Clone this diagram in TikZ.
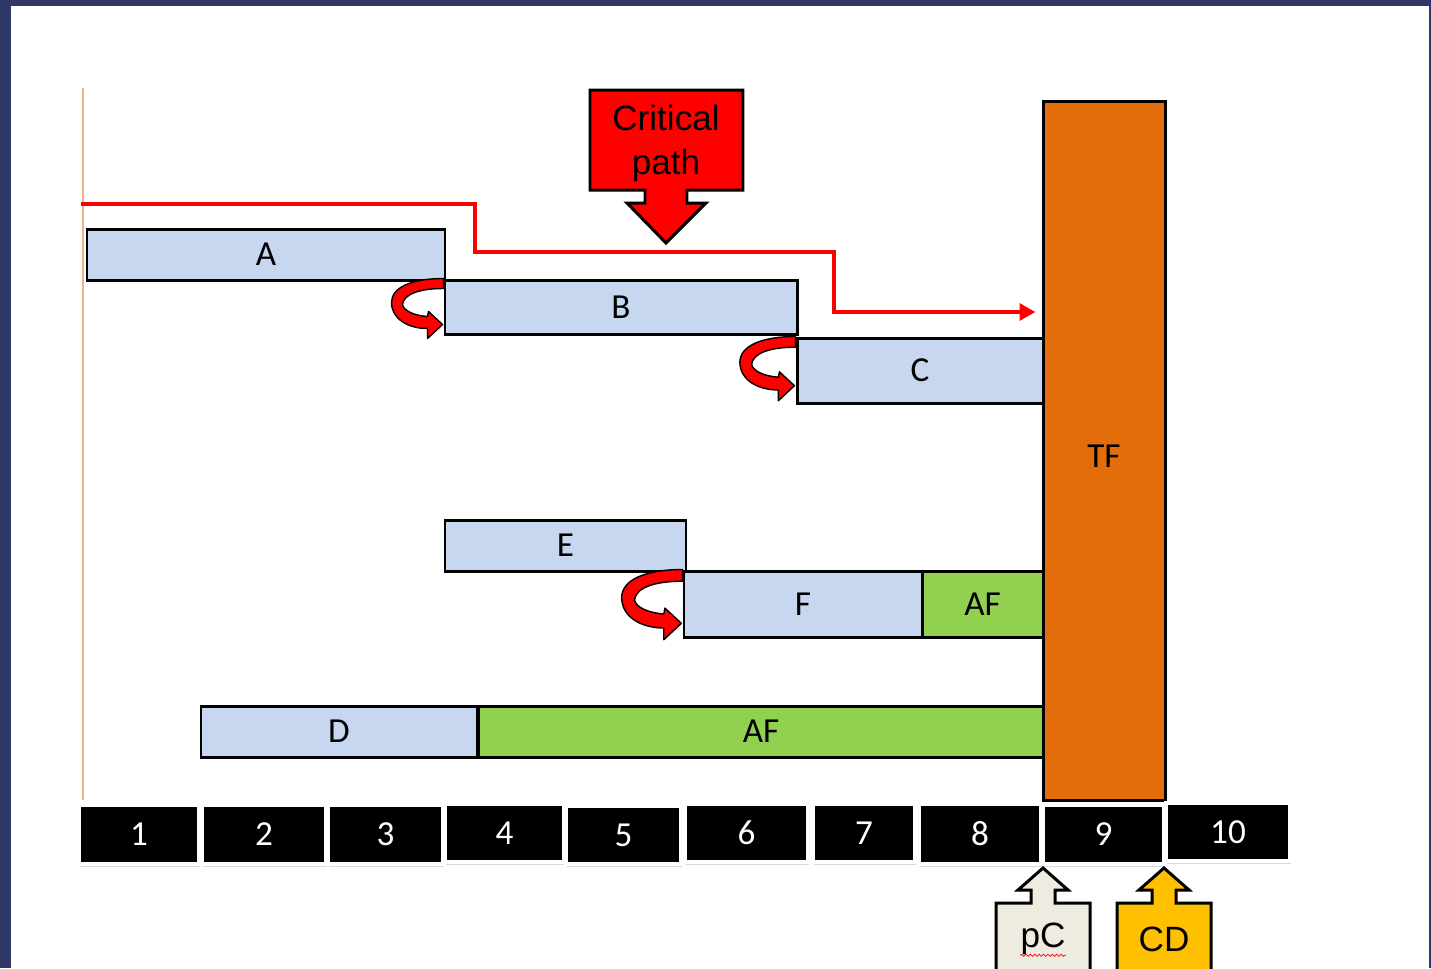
\documentclass[tikz,border=0pt]{standalone}
\usepackage{fontspec}
\setmainfont{Carlito}
\newfontfamily\calloutfont{Liberation Sans}
\usetikzlibrary{fit, shadows, arrows.meta, decorations.pathmorphing}

\definecolor{framenavy}{HTML}{2E3766}
\definecolor{barblue}{HTML}{C6D7EF}
\definecolor{slackgreen}{HTML}{92D050}
\definecolor{tforange}{HTML}{E36C0B}
\definecolor{edgeorange}{HTML}{F4B183}
\definecolor{pcgrey}{HTML}{EEECE1}
\definecolor{cdgold}{HTML}{FFC000}

\tikzset{
  barlabel/.style={font=\fontsize{20}{24}\selectfont, inner sep=0pt},
  ticklabel/.style={barlabel, text=white},
  bar/.style={draw=black, line width=1.7pt, fill=barblue, inner sep=0pt},
  slack/.style={bar, fill=slackgreen},
  totalfloat/.style={bar, fill=tforange},
  tick/.style={draw=white, line width=2.3pt, fill=black, inner sep=0pt,
    drop shadow={shadow xshift=0.6pt, shadow yshift=-1.6pt, opacity=0.3}},
  critpath/.style={draw=red, line width=2.3pt, -{Triangle[length=9pt, width=9.5pt]}},
  uturnarrow/.style={fill=red, draw=black, line width=0.8pt, line join=round},
  flagbox/.style={draw=black, line width=1.7pt},
  flagtext/.style={font=\calloutfont\fontsize{20}{25}\selectfont, align=center, inner sep=0pt},
  leftedge/.style={draw=edgeorange, line width=1.1pt}
}

% red turning arrow, hooked on the corner of the next bar
\newcommand{\uturn}[2]{%
  \begin{scope}[shift={(#1)}, scale=#2]
    \draw[uturnarrow] (0,0) .. controls (-32,0) and (-52,9) .. (-52,24)
      .. controls (-52,40) and (-36,50) .. (-16,50) -- (-16,60) -- (-1,46)
      -- (-15,33) -- (-16,38) .. controls (-30,37) and (-40,32) .. (-41,26)
      .. controls (-40,16) and (-25,10) .. (0,10) -- cycle;
  \end{scope}}

\begin{document}
\begin{tikzpicture}[x=0.02cm, y=-0.02cm]
  \useasboundingbox (0,0) rectangle (1431,968);
  \clip (0,0) rectangle (1431,968);
  \fill[framenavy] (0,0) rectangle (1431,968);
  \fill[white] (11,6) rectangle (1429,968);

  \draw[leftedge] (83,88) -- (83,800);

  % activities
  \node[bar, fit={(87,229) (445,280)}, label={[barlabel]center:A}] (A) {};
  \node[bar, fit={(445,280) (797,334)}, label={[barlabel]center:B}] (B) {};
  \node[bar, fit={(797,338) (1043,403)}, label={[barlabel]center:C}] (C) {};
  \node[bar, fit={(445,520) (686,571)}, label={[barlabel]center:E}] (E) {};
  \node[bar, fit={(684,571) (922,637)}, label={[barlabel]center:F}] (F) {};
  \node[slack, fit={(922,571) (1043,637)}, label={[barlabel]center:AF}] (afF) {};
  \node[bar, fit={(201,706) (477,757)}, label={[barlabel]center:D}] (D) {};
  \node[slack, fit={(479,706) (1043,757)}, label={[barlabel]center:AF}] (afD) {};
  \node[totalfloat, fit={(1043,101) (1165,800)}, label={[barlabel, yshift=-0.12cm]center:TF}] (TF) {};

  \uturn{B.north west}{1}
  \uturn{C.north west}{1.07}
  \uturn{F.north west}{1.17}

  % critical path
  \coordinate (cpstart) at (81,204);
  \coordinate (cpbend) at (834,312);
  \draw[critpath, shorten >=3.5pt] (cpstart) -| (475,252) -| (cpbend) -- (cpbend -| TF.west);

  \draw[flagbox, fill=red] (590,90) -- (743,90) -- (743,190) -- (687,190) -- (687,203)
    -- (706,203) -- (666,243) -- (627,203) -- (645,203) -- (645,190) -- (590,190) -- cycle;
  \node[flagtext] (critical) at (666,143) {Critical\\path};

  % time scale
  \foreach \n/\xa/\ya/\xb/\yb in {1/81/807/197/862, 2/204/807/324/862, 3/330/807/441/862,
      4/447/806/562/860, 5/568/808/679/862, 6/687/806/806/860, 7/815/806/913/860,
      8/921/806/1039/862, 9/1045/807/1162/862, 10/1168/805/1288/859}
    \node[tick, fit={(\xa-2,\ya-2) (\xb+2,\yb+2)}, label={[ticklabel]center:\n}] (t\n) {};

  % markers below the scale
  \foreach \cx/\lbl/\col in {1043/pC/pcgrey, 1164/CD/cdgold}{
    \draw[flagbox, fill=\col] (\cx-47,990) -- (\cx-47,903) -- (\cx-12,903) -- (\cx-12,890)
      -- (\cx-25,890) -- (\cx,868) -- (\cx+25,890) -- (\cx+12,890) -- (\cx+12,903)
      -- (\cx+47,903) -- (\cx+47,990);
    \node[flagtext] (\lbl) at (\cx,939) {\lbl};
  }
  \draw[red, line width=0.4pt, decorate, decoration={snake, amplitude=0.6pt, segment length=2.5pt}]
    (pC.south west) -- (pC.south east);
\end{tikzpicture}
\end{document}
